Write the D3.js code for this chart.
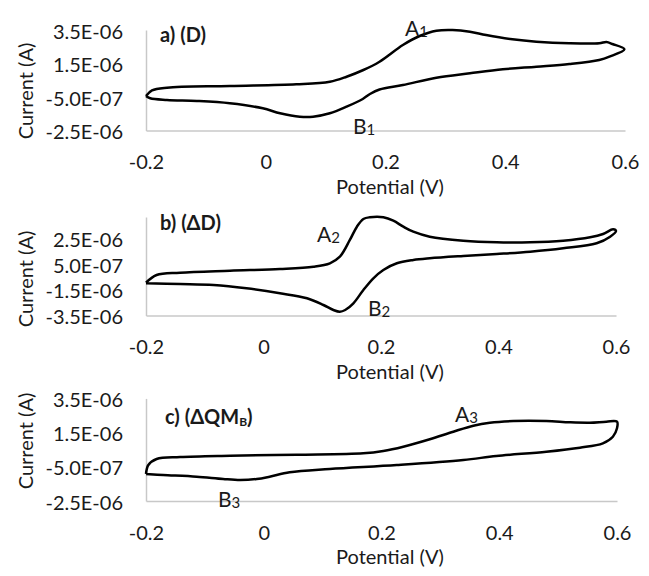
<!DOCTYPE html>
<html><head><meta charset="utf-8">
<script src="https://cdn.jsdelivr.net/npm/d3@7"></script>
<style>body{margin:0;background:#fff}svg{display:block}text{font-family:Lato,"Open Sans",sans-serif;fill:#1a1a1a}</style>
</head><body>
<script>
// ---- data (potential in V, current in µA) ----
const potentialA = [-0.200,-0.190,-0.165,-0.060,0.051,0.107,0.135,0.163,0.190,0.229,0.257,0.285,0.312,0.341,0.368,0.412,0.452,0.507,0.557,0.569,0.579,0.599,
  0.574,0.557,0.507,0.452,0.396,0.341,0.285,0.229,0.190,0.174,0.162,0.135,0.107,0.079,0.057,0.024,-0.005,-0.060,-0.115,-0.165,-0.193,-0.200];
const currentA = [-0.44,-0.11,0.055,0.157,0.258,0.413,0.712,1.112,1.607,2.604,3.142,3.458,3.50,3.399,3.201,2.945,2.801,2.706,2.706,2.784,2.664,2.348,
  1.906,1.709,1.470,1.309,1.154,0.915,0.652,0.216,-0.05,-0.321,-0.619,-1.079,-1.473,-1.676,-1.676,-1.473,-1.175,-0.876,-0.739,-0.679,-0.578,-0.44];

const potentialB = [-0.200,-0.182,-0.142,-0.057,0.028,0.085,0.113,0.130,0.147,0.159,0.170,0.181,0.204,0.221,0.238,0.255,0.283,0.340,0.397,0.454,0.510,0.556,0.578,0.595,0.600,
  0.590,0.567,0.510,0.454,0.397,0.340,0.283,0.255,0.227,0.204,0.187,0.170,0.153,0.139,0.130,0.119,0.102,0.074,0.028,-0.029,-0.085,-0.142,-0.200];
const currentB = [-0.936,-0.333,-0.154,0.003,0.136,0.315,0.581,1.097,2.403,3.443,4.045,4.178,4.178,3.912,3.443,3.052,2.661,2.348,2.223,2.223,2.348,2.614,2.872,3.240,3.106,
  2.661,2.145,1.754,1.488,1.308,1.152,0.972,0.839,0.581,0.058,-0.591,-1.506,-2.546,-3.070,-3.203,-3.070,-2.679,-2.155,-1.764,-1.373,-1.115,-1.037,-0.982];

const potentialC = [-0.200,-0.196,-0.182,-0.142,-0.057,0.056,0.169,0.203,0.237,0.282,0.322,0.356,0.384,0.424,0.480,0.520,0.554,0.582,0.600,
  0.600,0.593,0.576,0.537,0.480,0.395,0.339,0.226,0.112,0.044,0.010,-0.012,-0.040,-0.069,-0.114,-0.171,-0.200];
const currentC = [-0.921,-0.395,-0.044,0.073,0.149,0.208,0.289,0.424,0.675,1.108,1.553,1.904,2.079,2.178,2.178,2.102,2.079,2.137,2.137,
  1.751,1.260,0.874,0.617,0.383,0.132,-0.102,-0.395,-0.629,-0.822,-1.079,-1.213,-1.272,-1.213,-1.079,-0.980,-0.921];

const xTickValues = [-0.2, 0, 0.2, 0.4, 0.6];
const xTickLabels = ["-0.2", "0", "0.2", "0.4", "0.6"];
const yTicksA = [-2.5, -0.5, 1.5, 3.5];
const yLabelsA = ["-2.5E-06", "-5.0E-07", "1.5E-06", "3.5E-06"];
const yTicksB = [-3.5, -1.5, 0.5, 2.5];
const yLabelsB = ["-3.5E-06", "-1.5E-06", "5.0E-07", "2.5E-06"];
const yTicksC = [-2.5, -0.5, 1.5, 3.5];
const yLabelsC = ["-2.5E-06", "-5.0E-07", "1.5E-06", "3.5E-06"];
const xTitle = "Potential (V)";
const yTitle = "Current (A)";

const W = 649, H = 576;
const svg = d3.select("body").append("svg").attr("width", W).attr("height", H);

const panels = [
  {px: potentialA, cy: currentA, yDom: [-2.5, 3.5], yTicks: yTicksA, yLabels: yLabelsA,
   xr: [146, 625], yr: [130.5, 30], ytitleY: 91,
   label: [{t: "a) (D)"}], labelPos: [160, 34],
   ann: [{b: "A", s: "1", x: 405, y: 27}, {b: "B", s: "1", x: 353, y: 125}]},
  {px: potentialB, cy: currentB, yDom: [-3.5, 4.2], yTicks: yTicksB, yLabels: yLabelsB,
   xr: [146, 616], yr: [315.5, 217], ytitleY: 279,
   label: [{t: "b) (ΔD)"}], labelPos: [160, 222],
   ann: [{b: "A", s: "2", x: 317, y: 233}, {b: "B", s: "2", x: 368, y: 307}]},
  {px: potentialC, cy: currentC, yDom: [-2.5, 3.5], yTicks: yTicksC, yLabels: yLabelsC,
   xr: [146, 617], yr: [501, 398.4], ytitleY: 441,
   label: [{t: "c) (ΔQM"}, {t: "B", sub: true}, {t: ")"}], labelPos: [165, 416],
   ann: [{b: "A", s: "3", x: 455, y: 413}, {b: "B", s: "3", x: 218, y: 498}]}
];

panels.forEach(p => {
  const x = d3.scaleLinear().domain([-0.2, 0.6]).range(p.xr);
  const y = d3.scaleLinear().domain(p.yDom).range(p.yr);
  const g = svg.append("g");
  const xAxis = d3.axisBottom(x).tickValues(xTickValues).tickSize(0).tickPadding(0)
    .tickFormat((d, i) => xTickLabels[i]);
  const gx = g.append("g").attr("transform", `translate(0,${p.yr[0]})`).call(xAxis);
  gx.select(".domain").attr("stroke", "#c8c8c8").attr("stroke-width", 1.5);
  gx.selectAll("text").attr("font-size", 20).attr("fill", "#1a1a1a")
    .attr("font-family", "Lato").attr("dy", null).attr("y", 30.5).attr("dominant-baseline", "central");
  const yAxis = d3.axisLeft(y).tickValues(p.yTicks).tickSize(0).tickPadding(0)
    .tickFormat((d, i) => p.yLabels[i]);
  const gy = g.append("g").attr("transform", `translate(${p.xr[0]},0)`).call(yAxis);
  gy.select(".domain").attr("stroke", "#c8c8c8").attr("stroke-width", 1.5);
  gy.selectAll("text").attr("font-size", 20).attr("fill", "#1a1a1a")
    .attr("font-family", "Lato").attr("x", -23).attr("dy", null).attr("dominant-baseline", "central");
  g.append("text").attr("x", 390).attr("y", p.yr[0] + 55)
    .attr("text-anchor", "middle").attr("dominant-baseline", "central").attr("font-size", 20).text(xTitle);
  g.append("text").attr("transform", `translate(25,${p.ytitleY}) rotate(-90)`)
    .attr("text-anchor", "middle").attr("dominant-baseline", "central").attr("font-size", 20).text(yTitle);
  const pts = p.px.map((v, i) => [v, p.cy[i]]);
  g.append("path").datum(pts)
    .attr("d", d3.line().x(d => x(d[0])).y(d => y(d[1])).curve(d3.curveCatmullRom.alpha(0.5)))
    .attr("fill", "none").attr("stroke", "#000").attr("stroke-width", 2.5).attr("stroke-linejoin", "round");
  const lt = g.append("text").attr("x", p.labelPos[0]).attr("y", p.labelPos[1])
    .attr("dominant-baseline", "central").attr("font-size", 20).attr("font-weight", "bold");
  p.label.forEach((s, i) => {
    const ts = lt.append("tspan").text(s.t);
    if (s.sub) { ts.attr("font-size", 12).attr("dy", 5); }
    else if (i > 0) { ts.attr("dy", -5); }
  });
  p.ann.forEach(a => {
    const t = g.append("text").attr("x", a.x).attr("y", a.y)
      .attr("dominant-baseline", "central").attr("font-size", 21);
    t.append("tspan").text(a.b);
    t.append("tspan").text(a.s).attr("font-size", 15).attr("dy", 4);
  });
});
</script>
</body></html>
